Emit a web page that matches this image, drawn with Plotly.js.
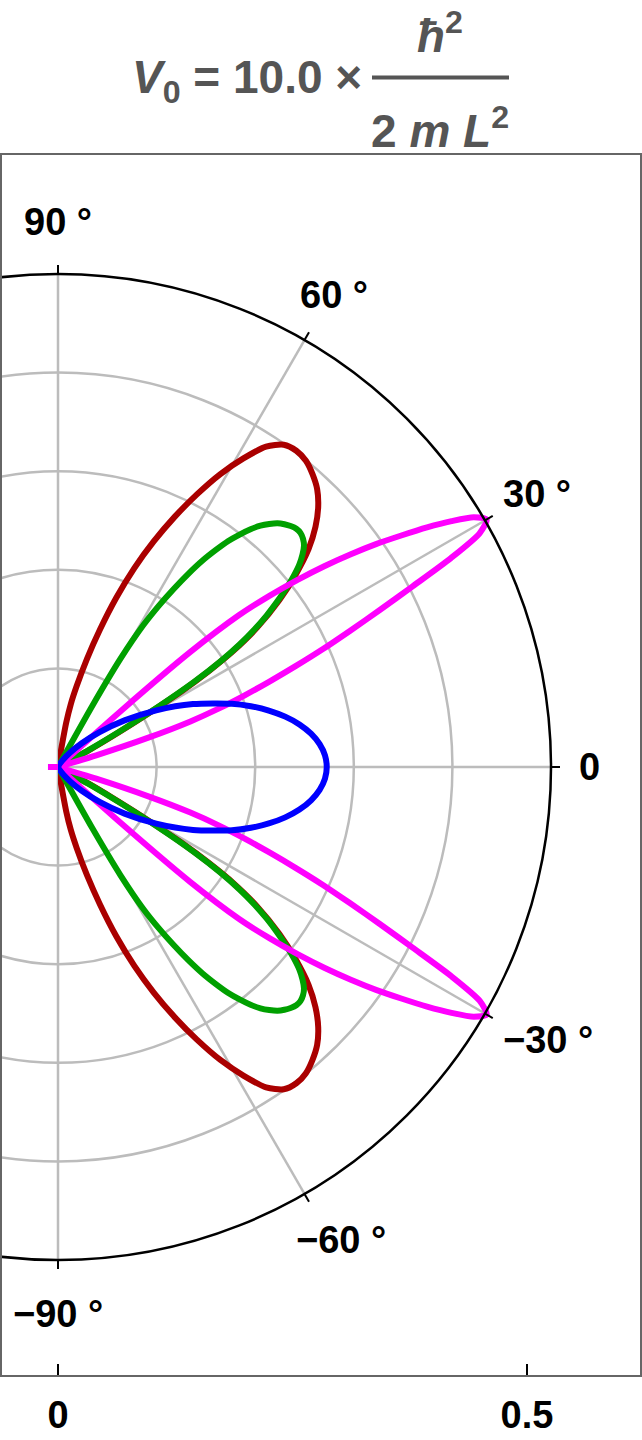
<!DOCTYPE html>
<html>
<head>
<meta charset="utf-8">
<script src="https://cdn.plot.ly/plotly-3.0.1.min.js"></script>
<style>
html,body{margin:0;padding:0;background:#fff;}
#chart{width:642px;height:1440px;}
</style>
</head>
<body>
<div id="chart"></div>
<script>
// ---------------- data (angle in degrees, r in plot units) ----------------
const blueTheta = [-90,-80,-70,-65,-60,-55,-50,-45,-40,-35,-30,-25,-20,-17.5,-15,-12.5,-10,-7.5,-5,-2.5,0,2.5,5,7.5,10,12.5,15,17.5,20,25,30,35,40,45,50,55,60,65,70,80,90];
const blueR = [0,0,0.0005,0.0017,0.0045,0.0102,0.0202,0.0358,0.0579,0.0866,0.1209,0.1588,0.1973,0.2156,0.2327,0.2481,0.2614,0.2721,0.2800,0.2849,0.2865,0.2849,0.2800,0.2721,0.2614,0.2481,0.2327,0.2156,0.1973,0.1588,0.1209,0.0866,0.0579,0.0358,0.0202,0.0102,0.0045,0.0017,0.0005,0,0];

const magentaTheta = [-90,-60,-42.2,-41.7,-41,-40,-39,-38,-37,-36,-35,-34,-33,-32,-31,-30,-29,-28,-27,-26,-25,-24,-23,-22,-21,-20,-19,-18,-17,-16,-10,0,10,16,17,18,19,20,21,22,23,24,25,26,27,28,29,30,31,32,33,34,35,36,37,38,39,40,41,41.7,42.2,60,90];
const magentaR = [0,0,0,0.0906,0.1866,0.2516,0.2900,0.3241,0.3561,0.3859,0.4147,0.4414,0.4691,0.4947,0.5171,0.5277,0.5139,0.4744,0.4243,0.3817,0.3433,0.3092,0.2751,0.2431,0.2132,0.1834,0.1493,0.1013,0.0426,0,0,0,0,0,0.0426,0.1013,0.1493,0.1834,0.2132,0.2431,0.2751,0.3092,0.3433,0.3817,0.4243,0.4744,0.5139,0.5277,0.5171,0.4947,0.4691,0.4414,0.4147,0.3859,0.3561,0.3241,0.2900,0.2516,0.1866,0.0906,0,0,0];
// small negative value of the magenta curve around 0 deg (drawn on the opposite side)
const magentaCentreR = -0.0107;

const greenTheta = [-90,-61.3,-60.7,-60,-59,-58,-57,-56,-55,-54,-53,-52,-51,-50,-49,-48,-47,-46,-45,-44,-43,-42,-41,-40,-39,-38,-37,-36,-35,-34,-33,-32,-31,-30,-29,-28,0,28,29,30,31,32,33,34,35,36,37,38,39,40,41,42,43,44,45,46,47,48,49,50,51,52,53,54,55,56,57,58,59,60,60.7,61.3,90];
const greenR = [0,0,0.0746,0.1333,0.1759,0.2026,0.2260,0.2484,0.2687,0.2857,0.3017,0.3145,0.3262,0.3358,0.3433,0.3497,0.3539,0.3571,0.3593,0.3593,0.3571,0.3529,0.3454,0.3358,0.3230,0.3081,0.2921,0.2751,0.2559,0.2335,0.2058,0.1706,0.1247,0.0768,0.0373,0,0,0,0.0373,0.0768,0.1247,0.1706,0.2058,0.2335,0.2559,0.2751,0.2921,0.3081,0.3230,0.3358,0.3454,0.3529,0.3571,0.3593,0.3593,0.3571,0.3539,0.3497,0.3433,0.3358,0.3262,0.3145,0.3017,0.2857,0.2687,0.2484,0.2260,0.2026,0.1759,0.1333,0.0746,0,0];

const redTheta = [-90,-80.3,-79.5,-78.5,-77,-75,-73,-71,-69,-67,-65,-63,-61,-59,-57,-55,-53,-51,-49,-47,-45,-43,-41,-39,-37,-35,-33.5,-32.5,-31.5,-30.5,-29.5,-28.5,-27.5,0,27.5,28.5,29.5,30.5,31.5,32.5,33.5,35,37,39,41,43,45,47,49,51,53,55,57,59,61,63,65,67,69,71,73,75,77,78.5,79.5,80.3,90];
const redR = [0,0,0.0480,0.0682,0.0885,0.1194,0.1535,0.1908,0.2271,0.2612,0.2942,0.3262,0.3571,0.3838,0.4073,0.4195,0.4222,0.4200,0.4136,0.4051,0.3923,0.3753,0.3539,0.3262,0.2953,0.2591,0.2239,0.1919,0.1546,0.1066,0.0661,0.0373,0,0,0,0.0373,0.0661,0.1066,0.1546,0.1919,0.2239,0.2591,0.2953,0.3262,0.3539,0.3753,0.3923,0.4051,0.4136,0.4200,0.4222,0.4195,0.4073,0.3838,0.3571,0.3262,0.2942,0.2612,0.2271,0.1908,0.1535,0.1194,0.0885,0.0682,0.0480,0,0];

// axes / grid values
const gridOuterR = 0.5256;
const gridRingCount = 5;
const spokeAngles = [-60,-30,0,30,60];
const angleTickAngles = [90,60,30,0,-30,-60,-90];
const angleLabelText = ['90 °','60 °','30 °','0','−30 °','−60 °','−90 °'];
const radialTickVals = [0, 0.5];
const radialTickText = ['0', '0.5'];

// ---------------- layout geometry ----------------
const FONT = 'Liberation Sans, Arial, Helvetica, sans-serif';
const W = 642, H = 1440;
const M = {l:2, r:2, t:155, b:65};
const plotW = W - M.l - M.r, plotH = H - M.t - M.b;
const PX = 938;                 // pixels per unit
const originX = 58, originY = 767; // page pixels
const ox = originX - M.l;       // from plot-left
const oyB = (H - M.b) - originY;   // from plot-bottom
const xRange = [-ox / PX, (plotW - ox) / PX];
const yRange = [-oyB / PX, (plotH - oyB) / PX];
const rMax = 0.55, rPx = rMax * PX;
const polarDomain = {
  x: [ox / plotW, (ox + rPx) / plotW],
  y: [(oyB - rPx) / plotH, (oyB + rPx) / plotH]
};
const d2r = Math.PI / 180;

const shapes = [];
const gridCol = 'rgb(188,188,188)';
const gridW = 2.5;
for (let k = 1; k < gridRingCount; k++) {
  const rr = gridOuterR * k / gridRingCount;
  shapes.push({type:'circle', xref:'x', yref:'y', x0:-rr, x1:rr, y0:-rr, y1:rr, line:{color:gridCol, width:gridW}, layer:'below'});
}
spokeAngles.forEach(a => {
  shapes.push({type:'line', xref:'x', yref:'y', x0:0, y0:0, x1:gridOuterR*Math.cos(a*d2r), y1:gridOuterR*Math.sin(a*d2r), line:{color:gridCol, width:gridW}, layer:'below'});
});
shapes.push({type:'line', xref:'x', yref:'y', x0:0, y0:-gridOuterR, x1:0, y1:gridOuterR, line:{color:gridCol, width:gridW}, layer:'below'});
shapes.push({type:'circle', xref:'x', yref:'y', x0:-gridOuterR, x1:gridOuterR, y0:-gridOuterR, y1:gridOuterR, line:{color:'#000', width:2.5}, layer:'above'});
const tickLen = 9 / PX;
angleTickAngles.forEach(a => {
  const c = Math.cos(a*d2r), s = Math.sin(a*d2r);
  shapes.push({type:'line', xref:'x', yref:'y', x0:gridOuterR*c, y0:gridOuterR*s, x1:(gridOuterR+tickLen)*c, y1:(gridOuterR+tickLen)*s, line:{color:'#000', width:2}, layer:'above'});
});
// title fraction bar
const px2paperX = p => (p - M.l) / plotW;
const px2paperY = p => ((H - M.b) - p) / plotH;
shapes.push({type:'line', xref:'paper', yref:'paper', x0:px2paperX(372), x1:px2paperX(509), y0:px2paperY(77.5), y1:px2paperY(77.5), line:{color:'#555', width:4}});

// annotations
const annotations = [];
const labelPx = [[58,222],[334,295],[537,494],[589,767],[548,1040],[341,1240],[58,1314]];
angleLabelText.forEach((t, i) => {
  annotations.push({xref:'x', yref:'y', x:(labelPx[i][0]-originX)/PX, y:(originY-labelPx[i][1])/PX, text:t, showarrow:false, xanchor:'center', yanchor:'middle', font:{family:FONT, size:38, color:'#000', weight:'bold'}});
});
const titleFont = {family:FONT, size:46, color:'#555', weight:'bold'};
annotations.push({xref:'paper', yref:'paper', x:px2paperX(364), y:px2paperY(80), xanchor:'right', yanchor:'middle', text:'<i>V</i><sub>0</sub> = 10.0 ×', showarrow:false, font:titleFont});
annotations.push({xref:'paper', yref:'paper', x:px2paperX(440), y:px2paperY(33), xanchor:'center', yanchor:'middle', text:'<i>ħ</i><sup>2</sup>', showarrow:false, font:titleFont});
annotations.push({xref:'paper', yref:'paper', x:px2paperX(440), y:px2paperY(128), xanchor:'center', yanchor:'middle', text:'2 <i>m</i> <i>L</i><sup>2</sup>', showarrow:false, font:titleFont});

function polarTrace(theta, r, color) {
  return {type:'scatterpolar', subplot:'polar', theta:theta, r:r, mode:'lines',
    line:{color:color, width:6, shape:'spline', smoothing:0.7}, hoverinfo:'skip', showlegend:false};
}

const traces = [
  {type:'scatter', xaxis:'x', yaxis:'y', x:[magentaCentreR, 0], y:[0, 0], mode:'lines', line:{color:'#FF00FF', width:6}, hoverinfo:'skip', showlegend:false},
  polarTrace(redTheta, redR, '#AA0000'),
  polarTrace(greenTheta, greenR, '#00A000'),
  polarTrace(magentaTheta, magentaR, '#FF00FF'),
  polarTrace(blueTheta, blueR, '#0000FF')
];

const layout = {
  width: W, height: H,
  margin: M,
  paper_bgcolor:'#fff', plot_bgcolor:'#fff',
  showlegend:false,
  xaxis: {range:xRange, showgrid:false, zeroline:false, showline:true, mirror:true, linecolor:'#666', linewidth:2,
    ticks:'inside', ticklen:11, tickwidth:2, tickcolor:'#000', tickmode:'array', tickvals:radialTickVals, ticktext:radialTickText,
    tickfont:{family:FONT, size:38, color:'#000', weight:'bold'}, ticklabelstandoff:5, fixedrange:true},
  yaxis: {range:yRange, showgrid:false, zeroline:false, showline:true, mirror:true, linecolor:'#666', linewidth:2,
    ticks:'', showticklabels:false, fixedrange:true},
  polar: {domain:polarDomain, sector:[-90, 90], bgcolor:'rgba(0,0,0,0)',
    radialaxis:{visible:false, range:[0, rMax]},
    angularaxis:{visible:false}},
  shapes: shapes,
  annotations: annotations
};

Plotly.newPlot('chart', traces, layout, {displayModeBar:false, staticPlot:true});
</script>
</body>
</html>
